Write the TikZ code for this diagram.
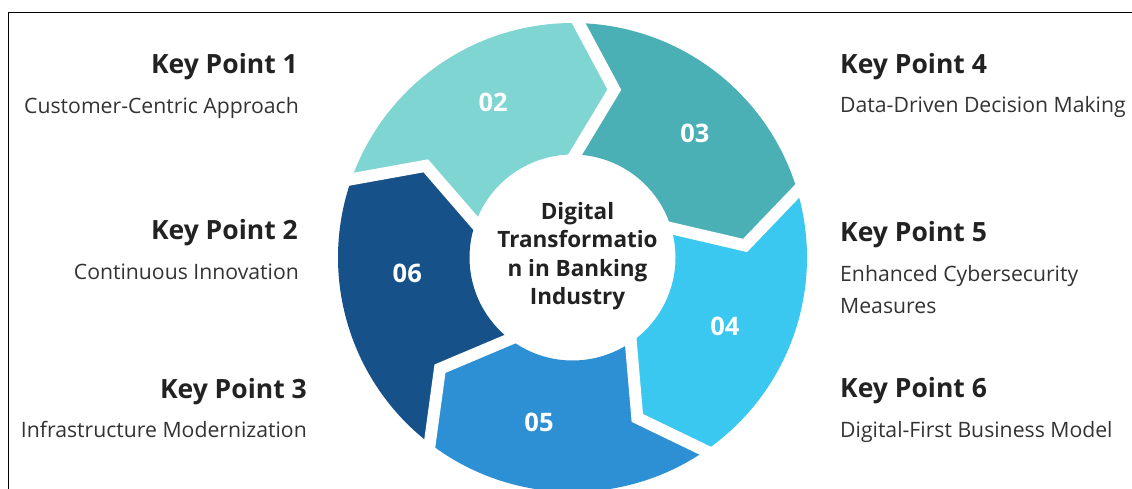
\documentclass[tikz,border=0pt]{standalone}
\usepackage{fontspec}
\setmainfont{Open Sans}

\definecolor{segtwo}{HTML}{7ED5D2}
\definecolor{segthree}{HTML}{4BB0B5}
\definecolor{segfour}{HTML}{3AC8F0}
\definecolor{segfive}{HTML}{2E90D4}
\definecolor{segsix}{HTML}{165289}
\definecolor{inkdark}{HTML}{222222}
\definecolor{inkbody}{HTML}{333333}

\tikzset{
  keyhead/.style={font=\fontsize{26.5}{30}\selectfont\bfseries, text=inkdark, inner sep=0pt},
  keytext/.style={font=\fontsize{21.2}{30}\selectfont, text=inkbody, inner sep=0pt},
  numlabel/.style={font=\fontsize{25.5}{28}\selectfont\bfseries, text=white, inner sep=0pt},
  hubtext/.style={font=\fontsize{22.5}{28.5}\selectfont\bfseries, text=inkdark, align=center, inner sep=0pt},
  gapline/.style={draw=white, line width=12pt, line join=miter, line cap=rect}
}

\begin{document}
\begin{tikzpicture}[x=1pt,y=1pt,yscale=-1,xscale=1]
\useasboundingbox (0,0) rectangle (1132,488);
\clip (0,0) rectangle (1132,488);

%Frame
\draw[line width=1.8pt] (8.5,495) -- (8.5,12.5) -- (1140,12.5);

%Wheel
\begin{scope}[shift={(572.5,257.5)},yscale=-1]
\foreach \a/\col in {160.5/segtwo, 88.5/segthree, 16.5/segfour, -55.5/segfive, -127.5/segsix}{
  \pgfmathsetmacro\b{\a-72}
  \fill[\col] (\a:234.5) arc[start angle=\a, end angle=\b, radius=234.5] -- (\b-12.5:173) -- (\b:103)
    arc[start angle=\b, end angle=\a, radius=103] -- (\a-12.5:173) -- cycle;
}
%Gaps
\foreach \a in {160.5, 88.5, 16.5, -55.5, -127.5}
  \draw[gapline] (\a:234.5) -- (\a-12.5:173) -- (\a:103);
%Numbers
\foreach \lab/\la/\lr in {02/117/174.6, 03/45.5/174.7, 04/-24.2/167, 05/-101.5/168, 06/-174.6/166}
  \node[numlabel] (n\lab) at (\la:\lr) {\lab};
\end{scope}

% Hub text
\node[hubtext] (hub) at (577.5,256) {Digital\\Transformatio\\n in Banking\\Industry};

% Left column
\node[keyhead, anchor=base east] (kp1) at (298,73) {Key Point 1};
\node[keytext, anchor=base east] (kp1t) at (299,113) {Customer-Centric Approach};
\node[keyhead, anchor=base east] (kp2) at (298,239) {Key Point 2};
\node[keytext, anchor=base east] (kp2t) at (299,279) {Continuous Innovation};
\node[keyhead, anchor=base east] (kp3) at (307,398) {Key Point 3};
\node[keytext, anchor=base east] (kp3t) at (307,437) {Infrastructure Modernization};

% Right column
\node[keyhead, anchor=base west] (kp4) at (840,73) {Key Point 4};
\node[keytext, anchor=base west] (kp4t) at (840,112) {Data-Driven Decision Making};
\node[keyhead, anchor=base west] (kp5) at (840,241) {Key Point 5};
\node[keytext, anchor=base west] (kp5t) at (840,281) {Enhanced Cybersecurity};
\node[keytext, anchor=base west] (kp5u) at (840,313) {Measures};
\node[keyhead, anchor=base west] (kp6) at (840,397) {Key Point 6};
\node[keytext, anchor=base west] (kp6t) at (840,437) {Digital-First Business Model};

\end{tikzpicture}
\end{document}
